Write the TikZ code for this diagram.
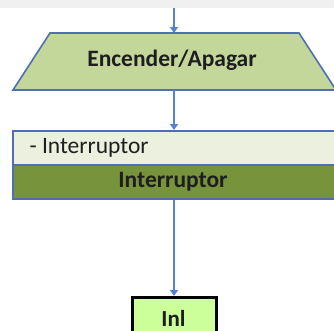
\documentclass[tikz,border=0pt]{standalone}
\usepackage{fontspec}
\setmainfont{Carlito}
\usetikzlibrary{arrows.meta}
\definecolor{edgeblue}{RGB}{79,111,176}
\definecolor{flowblue}{RGB}{84,130,210}
\definecolor{trapfill}{RGB}{196,215,155}
\definecolor{palefill}{RGB}{235,241,222}
\definecolor{olivefill}{RGB}{119,147,60}
\definecolor{limefill}{RGB}{204,255,153}
\definecolor{inkdark}{RGB}{30,30,30}
\tikzset{
  flow/.style={draw=flowblue, line width=1.6bp, -{Triangle[length=6bp,width=8bp]}},
  boxtext/.style={font=\fontsize{23.5bp}{26bp}\selectfont, text=inkdark},
  classbox/.style={draw=edgeblue, line width=1.6bp, minimum height=34bp,
    minimum width=328bp, inner sep=0pt, anchor=north west},
}
\begin{document}
\begin{tikzpicture}[x=1bp, y=-1bp]
  \useasboundingbox (0,0) rectangle (334,331);
  % faded strip along the top edge
  \fill[gray!12] (0,0) rectangle (334,8);
  % input/output block
  \draw[fill=trapfill, draw=edgeblue, line width=1.6bp]
    (50,33) -- (299,33) -- (336,90) -- (13,90) -- cycle;
  \node[boxtext, font=\fontsize{23.5bp}{26bp}\selectfont\bfseries] (trap) at (172,60) {Encender/Apagar};
  \coordinate (trapTop) at (174,33);
  \coordinate (trapBot) at (174,90);
  \coordinate (start) at (174,8);
  % class box with attribute and name rows
  \node[classbox, fill=palefill] (attr) at (12,130) {};
  \node[classbox, fill=olivefill] (cname) at (12,164) {};
  \node[boxtext, anchor=west] at (26,148) {- Interruptor};
  \node[boxtext, font=\fontsize{23.5bp}{26bp}\selectfont\bfseries] at (173,182) {Interruptor};
  % terminal box
  \node[draw=black, line width=3bp, fill=limefill, minimum width=84bp,
    minimum height=50bp, anchor=north, inner sep=0pt] (inl) at (174.5,296) {};
  \node[boxtext, font=\fontsize{23bp}{26bp}\selectfont\bfseries] at (173.5,318) {Inl};
  % connectors
  \draw[flow] (start) -- (trapTop);
  \draw[flow] (trapBot) -- (attr.north -| trapBot);
  \draw[flow] (cname.south -| trapBot) -- (inl.north -| trapBot);
\end{tikzpicture}
\end{document}
